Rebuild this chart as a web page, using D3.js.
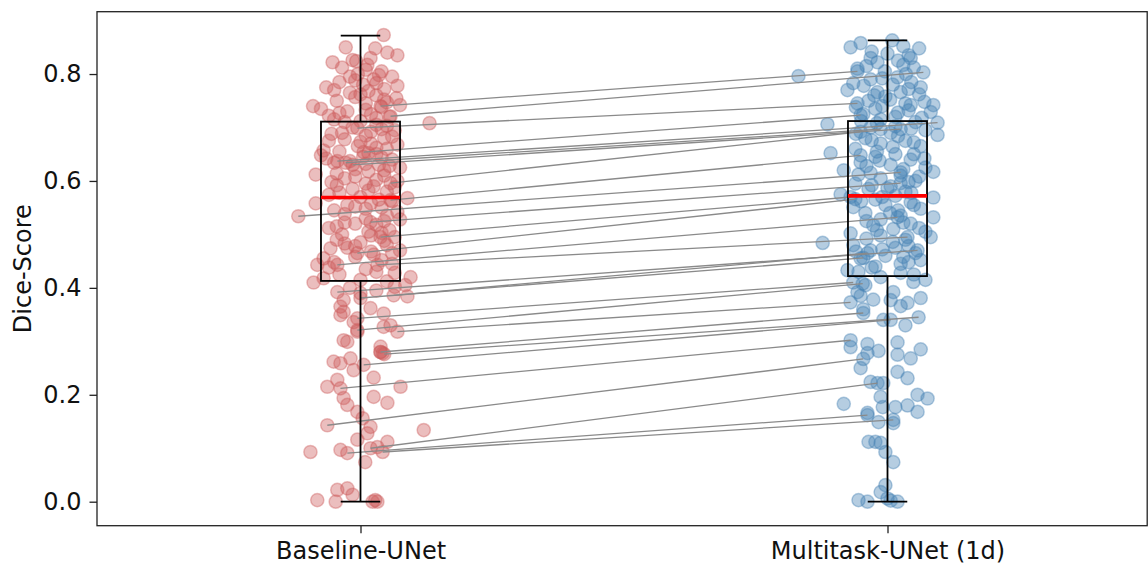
<!DOCTYPE html>
<html lang="en">
<head>
<meta charset="utf-8" />
<title>Dice-Score · Baseline vs Multitask</title>
<style>
html,body{margin:0;background:#fff}
svg{display:block;font-family:"DejaVu Sans",sans-serif}
</style>
<script src="https://cdn.jsdelivr.net/npm/d3@7/dist/d3.min.js"></script>
</head>
<body>
<div id="chart"></div>

<script>
/* ----------------------------- data ------------------------------------ */
const categories = ["Baseline-UNet", "Multitask-UNet (1d)"];
const yTicks     = [0.0, 0.2, 0.4, 0.6, 0.8];

// box statistics (per category)
const boxQ1       = [0.413, 0.422];
const boxMedian   = [0.569, 0.572];
const boxQ3       = [0.711, 0.712];
const whiskerLow  = [0.0, 0.0];
const whiskerHigh = [0.872, 0.863];

// [score, horizontal jitter in category units]
const baselinePoints = [
  [0.873,0.044],[0.850,-0.028],[0.848,0.028],[0.840,0.051],[0.835,0.070],[0.826,-0.015],[0.824,-0.008],[0.822,-0.053],[0.830,0.019],[0.817,0.013],
  [0.805,0.040],[0.800,-0.005],[0.795,0.060],[0.790,0.025],[0.785,-0.040],[0.775,-0.065],[0.780,0.005],[0.772,0.045],[0.765,-0.020],[0.760,0.030],
  [0.755,0.068],[0.750,-0.045],[0.745,0.010],[0.742,0.075],[0.740,-0.090],[0.735,-0.075],[0.738,0.040],[0.730,-0.025],[0.725,0.020],[0.720,0.055],
  [0.715,-0.050],[0.712,0.000],[0.708,0.131],[0.705,0.030],[0.700,-0.015],[0.695,0.065],[0.690,-0.035],[0.685,0.010],[0.680,0.045],[0.675,-0.060],
  [0.670,0.020],[0.665,-0.005],[0.660,0.050],[0.655,-0.040],[0.650,0.030],[0.648,-0.075],[0.645,0.005],[0.640,0.060],[0.637,-0.020],[0.634,-0.050],
  [0.630,0.035],[0.625,0.075],[0.622,-0.010],[0.618,0.015],[0.612,-0.085],[0.610,0.045],[0.605,-0.030],[0.600,0.070],[0.598,-0.055],[0.595,0.010],
  [0.590,0.025],[0.585,-0.015],[0.580,0.050],[0.578,-0.040],[0.568,0.089],[0.570,0.000],[0.558,-0.085],[0.562,0.060],[0.558,0.020],[0.555,-0.025],
  [0.550,0.040],[0.545,-0.050],[0.542,0.070],[0.530,0.010],[0.525,0.045],[0.520,-0.010],[0.518,0.030],[0.512,-0.060],[0.508,0.055],[0.505,0.015],
  [0.500,-0.035],[0.495,0.065],[0.490,-0.045],[0.485,0.000],[0.480,0.050],[0.475,-0.025],[0.470,0.075],[0.474,-0.057],[0.462,0.025],[0.458,-0.010],
  [0.452,0.040],[0.448,-0.050],[0.445,0.060],[0.443,-0.082],[0.435,0.010],[0.430,0.030],[0.425,-0.040],[0.420,0.095],[0.418,-0.070],[0.415,0.000],
  [0.412,0.050],[0.410,-0.089],[0.405,0.085],[0.400,-0.020],[0.395,0.030],[0.390,0.000],[0.384,0.089],[0.377,-0.032],[0.365,-0.038],[0.362,0.019],
  [0.355,-0.032],[0.352,0.044],[0.349,-0.038],[0.336,-0.013],[0.330,0.057],[0.327,0.044],[0.318,-0.006],[0.302,-0.032],[0.299,-0.025],[0.290,0.038],
  [0.280,0.038],[0.278,0.042],[0.262,-0.051],[0.259,-0.038],[0.268,-0.019],[0.246,-0.013],[0.232,0.025],[0.228,-0.044],[0.215,-0.063],[0.215,0.076],
  [0.194,-0.032],[0.196,0.025],[0.185,0.051],[0.181,-0.025],[0.168,-0.006],[0.156,0.004],[0.140,0.019],[0.134,0.120],[0.128,0.013],[0.116,-0.006],
  [0.112,0.051],[0.093,-0.095],[0.097,-0.038],[0.102,0.032],[0.074,0.009],[0.022,-0.044],[0.025,-0.025],[0.013,-0.015],[0.003,-0.082],[0.000,-0.047],
  [0.003,0.028],[0.000,0.032],[0.000,0.023],
  [0.798,0.035],[0.788,-0.010],[0.778,0.070],[0.762,0.000],[0.752,0.045],[0.733,0.010],[0.722,-0.060],[0.703,0.050],[0.692,0.020],[0.678,-0.030],
  [0.668,0.070],[0.652,0.015],[0.642,-0.065],[0.628,0.055],[0.614,-0.045],[0.602,0.030],[0.588,0.065],[0.574,-0.060],[0.548,0.010],[0.538,-0.030],
  [0.528,0.075],[0.515,-0.045],[0.498,0.020],[0.488,0.045],[0.478,-0.010],[0.465,0.060],[0.455,-0.070],[0.438,-0.060],[0.428,0.065],[0.402,0.065],
  [0.812,-0.035],[0.808,0.010],[0.795,-0.020],[0.783,0.030],[0.770,-0.050],[0.768,0.015],[0.757,-0.010],[0.747,0.050],[0.727,-0.040],[0.718,0.030],
  [0.710,-0.030],[0.697,0.040],[0.688,-0.055],[0.683,0.060],[0.673,0.000],[0.662,0.030],[0.657,-0.070],[0.644,0.040],[0.632,0.010],[0.620,0.045],
  [0.608,-0.010],[0.592,-0.045],[0.582,0.015],[0.565,0.035],[0.552,-0.010],[0.535,0.050],[0.522,-0.030],[0.503,0.040],[0.483,-0.030],[0.468,0.020]
];

const multitaskPoints = [
  [0.863,0.009],[0.858,-0.051],[0.850,-0.070],[0.835,0.040],[0.830,0.044],[0.830,-0.032],[0.822,-0.019],[0.817,0.030],[0.810,-0.057],[0.796,-0.169],
  [0.794,0.019],[0.790,-0.032],[0.783,-0.065],[0.775,0.063],[0.770,-0.076],[0.766,-0.019],[0.766,0.025],[0.758,-0.004],[0.750,-0.036],[0.745,0.034],
  [0.742,0.044],[0.742,0.087],[0.735,-0.023],[0.729,0.082],[0.725,-0.046],[0.720,0.015],[0.715,-0.013],[0.710,0.053],[0.706,-0.114],[0.700,-0.032],
  [0.695,0.072],[0.690,0.006],[0.686,0.095],[0.680,-0.042],[0.675,0.034],[0.670,-0.013],[0.665,0.063],[0.660,-0.061],[0.652,-0.108],[0.650,0.015],
  [0.645,-0.023],[0.640,0.044],[0.635,-0.051],[0.630,0.006],[0.625,0.072],[0.620,-0.083],[0.617,0.087],[0.615,-0.032],[0.610,0.025],[0.605,-0.013],
  [0.600,0.053],[0.595,-0.061],[0.590,0.006],[0.585,-0.036],[0.580,0.034],[0.575,-0.089],[0.572,0.015],[0.569,0.087],[0.565,-0.023],[0.560,0.044],
  [0.555,-0.004],[0.551,-0.065],[0.548,0.063],[0.540,-0.042],[0.535,0.025],[0.532,0.087],[0.528,-0.013],[0.520,0.044],[0.517,-0.027],[0.510,0.011],
  [0.505,0.072],[0.502,-0.070],[0.498,-0.013],[0.495,0.082],[0.490,0.034],[0.484,-0.123],[0.480,-0.065],[0.475,0.015],[0.470,-0.032],[0.465,0.053],
  [0.460,-0.004],[0.455,-0.051],[0.452,0.063],[0.445,0.025],[0.440,-0.023],[0.433,-0.076],[0.430,-0.055],[0.428,0.025],[0.420,-0.013],[0.415,0.072],
  [0.411,0.049],[0.405,-0.042],[0.392,-0.057],[0.392,0.011],[0.385,-0.051],[0.381,0.063],[0.378,-0.027],[0.377,0.006],[0.372,0.038],[0.366,0.025],
  [0.360,-0.046],[0.340,-0.008],[0.330,0.034],[0.295,-0.038],[0.298,0.019],[0.289,-0.070],[0.282,-0.017],[0.285,0.063],[0.278,-0.038],[0.275,0.019],
  [0.268,0.044],[0.250,-0.051],[0.243,0.019],[0.231,0.038],[0.224,-0.032],[0.222,-0.008],[0.200,0.057],[0.193,0.076],[0.183,-0.083],[0.196,-0.013],
  [0.177,-0.009],[0.177,0.015],[0.180,0.038],[0.168,0.057],[0.166,-0.038],[0.149,-0.017],[0.147,0.011],[0.112,-0.036],[0.112,-0.023],[0.110,-0.013],
  [0.093,-0.004],[0.074,0.011],[0.031,-0.004],[0.018,-0.013],[0.003,-0.055],[0.000,-0.038],[0.006,0.000],[0.000,0.019],[0.002,0.006],
  [0.852,0.030],[0.842,-0.030],[0.812,0.050],[0.805,-0.005],[0.785,0.045],[0.778,-0.045],[0.762,0.060],[0.752,0.005],[0.738,-0.060],[0.732,0.040],
  [0.712,-0.050],[0.702,0.015],[0.688,-0.060],[0.672,0.050],[0.655,-0.020],[0.642,0.070],[0.628,-0.040],[0.608,0.060],[0.592,-0.030],[0.578,0.045],
  [0.562,-0.050],[0.545,0.020],[0.525,-0.040],[0.512,0.060],[0.492,-0.040],[0.478,0.040],[0.468,-0.060],[0.448,0.040],[0.438,-0.030],[0.425,0.050],
  [0.848,0.060],[0.838,0.000],[0.825,0.020],[0.815,-0.040],[0.800,0.035],[0.792,-0.010],[0.780,0.010],[0.772,0.040],[0.760,-0.025],[0.748,0.070],
  [0.740,-0.010],[0.728,0.020],[0.718,0.065],[0.708,-0.020],[0.698,0.045],[0.684,0.020],[0.676,-0.030],[0.664,0.010],[0.650,0.050],[0.638,-0.015],
  [0.622,0.030],[0.612,-0.055],[0.598,0.040],[0.586,0.000],[0.570,-0.010],[0.555,0.050],[0.540,0.005],[0.522,0.030],[0.508,-0.020],[0.486,0.010],
  [0.472,-0.010],[0.458,0.030]
];

// paired cases joined by a line: [score, jitter]
const pairBaseline = [
  [0.740,0.038],[0.721,0.057],[0.699,-0.006],[0.654,0.006],[0.637,-0.044],[0.634,-0.028],[0.630,-0.015],[0.596,0.057],[0.564,0.057],[0.534,-0.118],
  [0.523,0.019],[0.495,0.038],[0.465,-0.006],[0.443,-0.044],[0.443,0.032],[0.392,-0.044],[0.386,0.063],[0.381,0.000],[0.343,-0.006],[0.321,-0.006],
  [0.318,0.070],[0.280,0.038],[0.276,0.045],[0.256,0.006],[0.212,-0.038],[0.143,-0.063],[0.100,0.019],[0.091,-0.025],[0.093,0.042]
];
const pairMultitask = [
  [0.805,-0.057],[0.803,0.068],[0.745,-0.057],[0.723,-0.051],[0.709,0.095],[0.697,-0.013],[0.697,0.025],[0.692,-0.051],[0.648,-0.051],[0.616,0.025],
  [0.596,0.025],[0.570,-0.070],[0.566,-0.061],[0.532,0.019],[0.495,0.038],[0.470,0.057],[0.465,-0.038],[0.456,-0.046],[0.410,-0.065],[0.408,-0.047],
  [0.373,-0.070],[0.353,-0.046],[0.345,0.059],[0.340,0.006],[0.302,-0.070],[0.267,-0.046],[0.222,-0.019],[0.162,-0.038],[0.153,0.011]
];

/* ----------------------------- layout ---------------------------------- */
const width = 1148, height = 566;
const plot = {left: 97, right: 1151, top: 11.7, bottom: 525.7};
const colors = ["#cd5c5c", "#4682b4"];

const svg = d3.select("#chart").append("svg")
  .attr("width", width).attr("height", height)
  .attr("viewBox", [0, 0, width, height]);

svg.append("rect").attr("width", width).attr("height", height).attr("fill", "#fff");

const x = d3.scaleLinear().domain([0.5, 2.5]).range([plot.left, plot.right]);
const y = d3.scaleLinear().domain([-0.0449, 0.9166]).range([plot.bottom, plot.top]);

/* ----------------------------- points ---------------------------------- */
const groups = [
  baselinePoints.concat(pairBaseline),
  multitaskPoints.concat(pairMultitask)
];

groups.forEach((pts, i) => {
  svg.append("g")
    .selectAll("circle")
    .data(pts)
    .join("circle")
      .attr("cx", d => x(i + 1 + d[1]))
      .attr("cy", d => y(d[0]))
      .attr("r", 6.6)
      .attr("fill", colors[i])
      .attr("fill-opacity", 0.4)
      .attr("stroke", colors[i])
      .attr("stroke-opacity", 0.4)
      .attr("stroke-width", 1.5);
});

/* ----------------------------- pair lines ------------------------------ */
svg.append("g")
  .selectAll("line")
  .data(d3.zip(pairBaseline, pairMultitask))
  .join("line")
    .attr("x1", d => x(1 + d[0][1]))
    .attr("y1", d => y(d[0][0]))
    .attr("x2", d => x(2 + d[1][1]))
    .attr("y2", d => y(d[1][0]))
    .attr("stroke", "#8a8a8a")
    .attr("stroke-width", 1.3);

/* ----------------------------- boxes ----------------------------------- */
const boxHalf = 0.075, capHalf = 0.0375;
const boxG = svg.append("g").attr("fill", "none");

categories.forEach((c, i) => {
  const cx = i + 1;
  // whiskers
  boxG.append("line")
    .attr("x1", x(cx)).attr("x2", x(cx))
    .attr("y1", y(boxQ3[i])).attr("y2", y(whiskerHigh[i]))
    .attr("stroke", "#000").attr("stroke-width", 1.8);
  boxG.append("line")
    .attr("x1", x(cx)).attr("x2", x(cx))
    .attr("y1", y(boxQ1[i])).attr("y2", y(whiskerLow[i]))
    .attr("stroke", "#000").attr("stroke-width", 1.8);
  // caps
  [whiskerHigh[i], whiskerLow[i]].forEach(v => {
    boxG.append("line")
      .attr("x1", x(cx - capHalf)).attr("x2", x(cx + capHalf))
      .attr("y1", y(v)).attr("y2", y(v))
      .attr("stroke", "#000").attr("stroke-width", 1.8);
  });
  // box
  boxG.append("rect")
    .attr("x", x(cx - boxHalf))
    .attr("y", y(boxQ3[i]))
    .attr("width", x(cx + boxHalf) - x(cx - boxHalf))
    .attr("height", y(boxQ1[i]) - y(boxQ3[i]))
    .attr("stroke", "#000").attr("stroke-width", 1.8);
  // median
  boxG.append("line")
    .attr("x1", x(cx - boxHalf)).attr("x2", x(cx + boxHalf))
    .attr("y1", y(boxMedian[i])).attr("y2", y(boxMedian[i]))
    .attr("stroke", "#ff0000").attr("stroke-width", 3.6);
});

/* ----------------------------- axes ------------------------------------ */
const yAxis = svg.append("g")
  .attr("transform", `translate(${plot.left},0)`)
  .call(d3.axisLeft(y).tickValues(yTicks).tickFormat(d3.format(".1f"))
          .tickSize(7.5).tickPadding(8));

const xAxis = svg.append("g")
  .attr("transform", `translate(0,${plot.bottom})`)
  .call(d3.axisBottom(x).tickValues([1, 2]).tickFormat(d => categories[d - 1])
          .tickSize(7.5).tickPadding(9));

[yAxis, xAxis].forEach(g => {
  g.select(".domain").remove();
  g.selectAll(".tick line").attr("stroke", "#222").attr("stroke-width", 1.3);
  g.selectAll(".tick text")
    .attr("fill", "#111")
    .style("font-size", "24px")
    .style("font-family", "'DejaVu Sans', sans-serif");
});

// frame (right spine falls on the window edge)
svg.append("rect")
  .attr("x", plot.left)
  .attr("y", plot.top)
  .attr("width", width - 0.8 - plot.left)
  .attr("height", plot.bottom - plot.top)
  .attr("fill", "none")
  .attr("stroke", "#222")
  .attr("stroke-width", 1.3);

svg.append("text")
  .attr("transform", `translate(31,${(plot.top + plot.bottom) / 2}) rotate(-90)`)
  .attr("text-anchor", "middle")
  .attr("fill", "#111")
  .style("font-size", "24px")
  .text("Dice-Score");
</script>
</body>
</html>
